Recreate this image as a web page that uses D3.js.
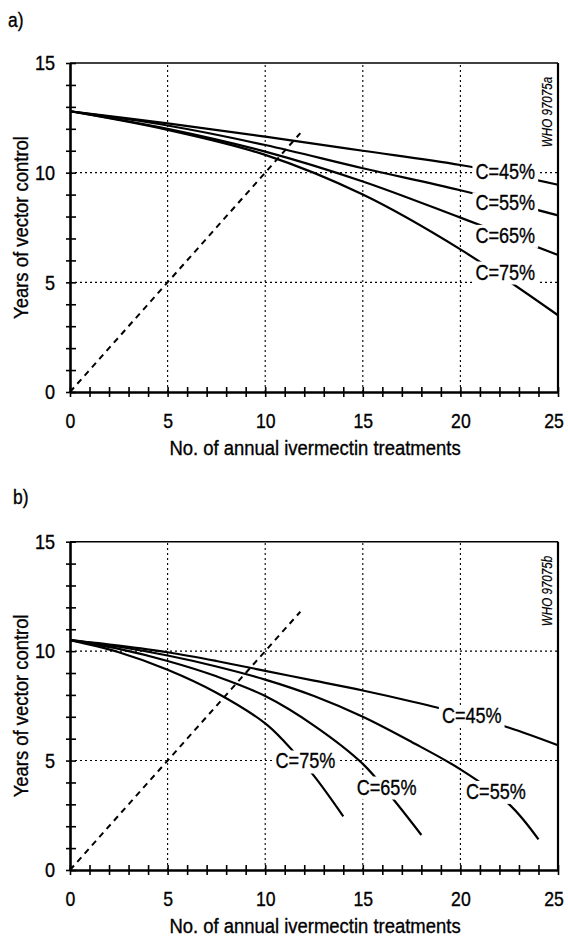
<!DOCTYPE html>
<html>
<head>
<meta charset="utf-8">
<script src="https://cdn.jsdelivr.net/npm/d3@7"></script>
<style>
  body { margin: 0; background: #fff; }
  svg { display: block; font-family: "Liberation Sans", Arial, sans-serif; }
  text { fill: #000; stroke: #000; stroke-width: 0.35px; }
</style>
</head>
<body>
<script>
"use strict";
// tick values
const xTicks = [0, 5, 10, 15, 20, 25];
const yTicks = [0, 5, 10, 15];
const coverage = ["C=45%", "C=55%", "C=65%", "C=75%"];

// panel a) curves
const aX = [0, 5, 10, 15, 20, 25];
const a45 = [12.8, 12.25, 11.64, 11.0, 10.35, 9.45];
const a55 = [12.8, 12.15, 11.26, 10.2, 9.2, 8.05];
const a65 = [12.8, 12.0, 10.96, 9.6, 7.95, 6.25];
const a75 = [12.8, 11.95, 10.81, 9.0, 6.5, 3.5];

// panel b) curves
const b45X = [0, 2.5, 5, 7.5, 10, 12.5, 15, 17.5, 20, 22.5, 25];
const b45 = [10.5, 10.25, 9.95, 9.55, 9.1, 8.65, 8.2, 7.7, 7.15, 6.5, 5.7];
const b55X = [0, 2.5, 5, 7.5, 10, 12.5, 15, 17.5, 20, 22.5, 24];
const b55 = [10.5, 10.2, 9.8, 9.3, 8.7, 7.95, 7.0, 5.85, 4.6, 3.0, 1.4];
const b65X = [0, 2.5, 5, 7.5, 10, 12.5, 15, 16.5, 18];
const b65 = [10.5, 10.1, 9.55, 8.85, 7.95, 6.6, 4.85, 3.3, 1.6];
const b75X = [0, 2.5, 5, 7.5, 10, 11, 12.5, 14];
const b75 = [10.5, 9.95, 9.15, 8.1, 6.7, 5.85, 4.3, 2.45];

// dashed reference line y = x
const diagX = [0, 11.8];

// label anchors (data units)
const aLabelX = [22.3, 22.3, 22.3, 22.3];
const aLabelY = [10.08, 8.64, 7.16, 5.49];
const bLabelX = [20.58, 21.82, 16.22, 12.06];
const bLabelY = [7.08, 3.61, 3.81, 5.0];

const svg = d3.select("body").append("svg")
    .attr("width", 568)
    .attr("height", 938);

function zip(xs, ys) {
    return xs.map((v, i) => [v, ys[i]]);
}

// no condensed face installed, so squeeze the glyphs instead
function narrow(sel, k = 0.8) {
    sel.each(function () {
        const w = this.getComputedTextLength();
        this.setAttribute("textLength", w * k);
        this.setAttribute("lengthAdjust", "spacingAndGlyphs");
    });
    return sel;
}

function drawPanel(opts) {
    const x = d3.scaleLinear().domain([0, 25]).range([70, 558]);
    const y = d3.scaleLinear().domain([0, 15]).range([opts.bottom, opts.top]);
    const g = svg.append("g");

    // dotted grid
    g.selectAll("line.gx").data([5, 10, 15, 20]).enter().append("line")
        .attr("x1", d => x(d)).attr("x2", d => x(d))
        .attr("y1", y(0)).attr("y2", y(15))
        .attr("stroke", "#000").attr("stroke-width", 1.1)
        .attr("stroke-dasharray", "2,3");
    g.selectAll("line.gy").data([5, 10]).enter().append("line")
        .attr("x1", x(0)).attr("x2", x(25))
        .attr("y1", d => y(d)).attr("y2", d => y(d))
        .attr("stroke", "#000").attr("stroke-width", 1.1)
        .attr("stroke-dasharray", "2,3");

    // frame top/right
    g.append("line").attr("x1", x(0)).attr("x2", x(25)).attr("y1", y(15)).attr("y2", y(15))
        .attr("stroke", "#000").attr("stroke-width", 1.6);
    g.append("line").attr("x1", x(25)).attr("x2", x(25)).attr("y1", y(0)).attr("y2", y(15))
        .attr("stroke", "#000").attr("stroke-width", 2.2);

    // dashed diagonal
    const line = d3.line().x(d => x(d[0])).y(d => y(d[1]));
    g.append("path").datum(zip(diagX, diagX))
        .attr("d", line).attr("fill", "none")
        .attr("stroke", "#000").attr("stroke-width", 2)
        .attr("stroke-dasharray", "6,5");

    // curves
    const curve = d3.line().x(d => x(d[0])).y(d => y(d[1])).curve(d3.curveCatmullRom.alpha(0.5));
    g.selectAll("path.c").data(opts.series).enter().append("path")
        .attr("class", "c")
        .attr("d", d => curve(d)).attr("fill", "none")
        .attr("stroke", "#000").attr("stroke-width", 2.2);

    // curve labels with a white knockout
    opts.labelX.forEach((lx, i) => {
        const lg = g.append("g");
        const t = lg.append("text")
            .attr("x", x(lx)).attr("y", y(opts.labelY[i]))
            .attr("dy", "0.36em")
            .attr("text-anchor", "middle")
            .attr("font-size", 22)
            .text(coverage[i])
            .call(narrow, 0.82);
        const bb = t.node().getBBox();
        lg.insert("rect", "text")
            .attr("x", bb.x - 3).attr("y", bb.y + 2)
            .attr("width", bb.width + 6).attr("height", bb.height - 2)
            .attr("fill", "#fff");
    });

    // minor ticks crossing the axes
    const tickStyle = s => s.selectAll("line").attr("stroke", "#000").attr("stroke-width", 1.6);
    [5, -5].forEach(sz => {
        g.append("g").attr("transform", `translate(0,${y(0)})`)
            .call(d3.axisBottom(x).tickValues(d3.range(0, 26)).tickSize(sz).tickFormat(""))
            .call(a => a.select(".domain").remove())
            .call(tickStyle);
        g.append("g").attr("transform", `translate(${x(0)},0)`)
            .call(d3.axisLeft(y).tickValues(d3.range(0, 16)).tickSize(sz < 0 ? -6 : 4).tickFormat(""))
            .call(a => a.select(".domain").remove())
            .call(tickStyle);
    });

    // axis lines + labels
    g.append("g").attr("transform", `translate(0,${y(0)})`)
        .call(d3.axisBottom(x).tickValues(xTicks).tickSize(0).tickPadding(21).tickFormat(d3.format("d")))
        .call(a => a.select(".domain").attr("stroke-width", 2.6))
        .call(a => a.selectAll("text").attr("font-size", 21).attr("fill", "#000")
            .attr("font-family", null).call(narrow, 0.84))
        .call(a => a.selectAll("text").filter(d => d === 25).attr("dx", -4.5));
    g.append("g").attr("transform", `translate(${x(0)},0)`)
        .call(d3.axisLeft(y).tickValues(yTicks).tickSize(0).tickPadding(15).tickFormat(d3.format("d")))
        .call(a => a.select(".domain").attr("stroke-width", 2.6))
        .call(a => a.selectAll("text").attr("font-size", 21).attr("fill", "#000")
            .attr("font-family", null).call(narrow, 0.86));

    // titles
    g.append("text")
        .attr("x", 315).attr("y", y(0) + 63)
        .attr("text-anchor", "middle").attr("font-size", 20.5)
        .text("No. of annual ivermectin treatments")
        .call(narrow, 0.9);
    g.append("text")
        .attr("transform", `translate(28,${(y(0) + y(15)) / 2}) rotate(-90)`)
        .attr("text-anchor", "middle").attr("font-size", 20.5)
        .text("Years of vector control")
        .call(narrow, 0.9);
    g.append("text")
        .attr("x", opts.letterX).attr("y", opts.letterY)
        .attr("font-size", 20.5)
        .text(opts.letter)
        .call(narrow, 0.85);
    g.append("text")
        .attr("transform", `translate(552,${opts.tagY}) rotate(-90)`)
        .attr("text-anchor", "middle").attr("font-size", 14.5)
        .attr("font-style", "italic")
        .style("stroke-width", "0.2px")
        .text(opts.tag)
        .call(narrow, 0.8);
}

drawPanel({
    top: 63, bottom: 392,
    series: [zip(aX, a45), zip(aX, a55), zip(aX, a65), zip(aX, a75)],
    labelX: aLabelX, labelY: aLabelY,
    letter: "a)", letterX: 8, letterY: 27,
    tag: "WHO 97075a", tagY: 112
});

drawPanel({
    top: 541.7, bottom: 870,
    series: [zip(b45X, b45), zip(b55X, b55), zip(b65X, b65), zip(b75X, b75)],
    labelX: bLabelX, labelY: bLabelY,
    letter: "b)", letterX: 13, letterY: 504,
    tag: "WHO 97075b", tagY: 591
});
</script>
</body>
</html>
